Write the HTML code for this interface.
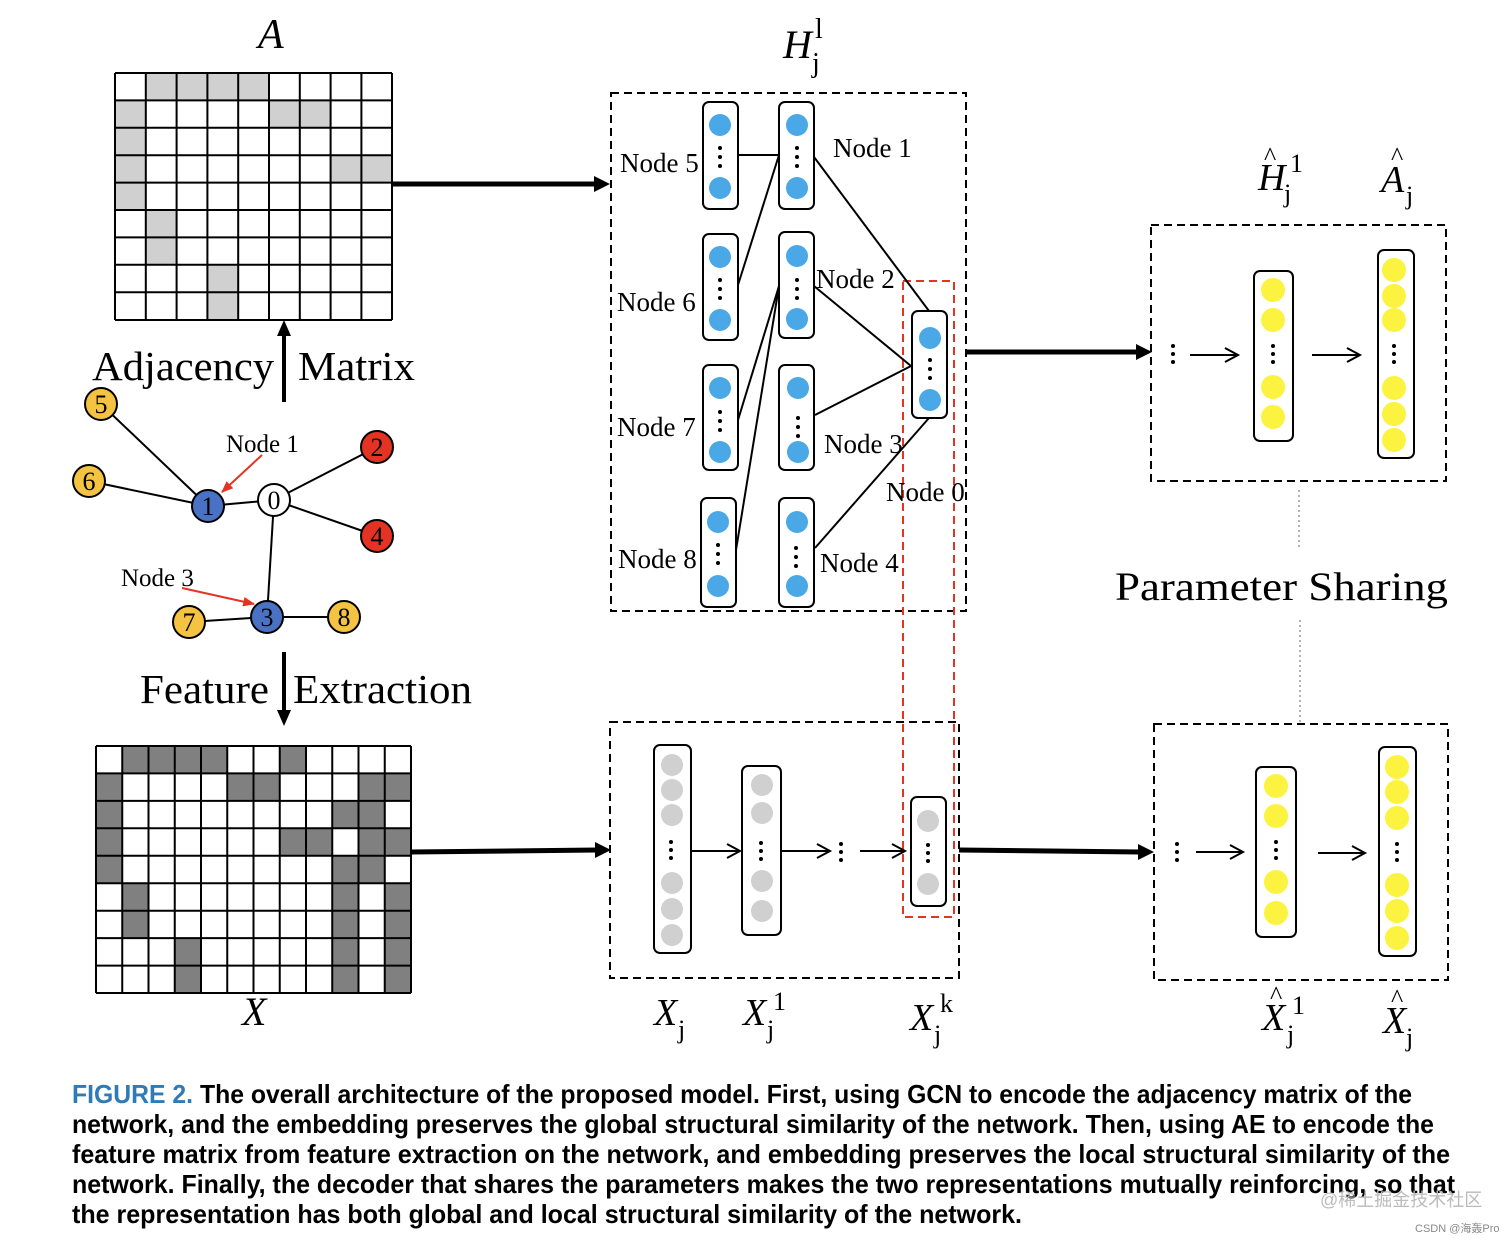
<!DOCTYPE html>
<html><head><meta charset="utf-8"><style>
html,body{margin:0;padding:0;background:#fff;width:1512px;height:1241px;overflow:hidden}
svg{display:block}
.s{font-family:"Liberation Serif",serif}
.i{font-family:"Liberation Serif",serif;font-style:italic}
.c{font-family:"Liberation Sans","Noto Sans CJK SC",sans-serif;font-weight:bold}
</style></head><body>
<svg width="1512" height="1241" viewBox="0 0 1512 1241" xmlns="http://www.w3.org/2000/svg">
<defs>
<marker id="ahr" viewBox="0 0 10 10" refX="9" refY="5" markerWidth="6" markerHeight="6" orient="auto"><path d="M0,1L10,5L0,9z" fill="#e53323"/></marker>
</defs>

<!-- Matrix A -->
<g fill="#d0d0d0">
<rect x="145.8" y="73" width="123.2" height="27.4"/>
<rect x="115" y="100.4" width="30.8" height="27.4"/><rect x="269" y="100.4" width="61.6" height="27.4"/>
<rect x="115" y="127.8" width="30.8" height="82.2"/>
<rect x="330.6" y="155.2" width="61.6" height="27.4"/>
<rect x="145.8" y="210" width="30.8" height="54.8"/>
<rect x="207.4" y="264.8" width="30.8" height="55.2"/>
</g>
<path d="M115,73V320M145.8,73V320M176.6,73V320M207.4,73V320M238.2,73V320M269,73V320M299.8,73V320M330.6,73V320M361.4,73V320M392,73V320M115,73H392M115,100.4H392M115,127.8H392M115,155.2H392M115,182.6H392M115,210H392M115,237.4H392M115,264.8H392M115,292.2H392M115,320H392" stroke="#000" stroke-width="2" fill="none"/>
<text class="i" x="258" y="48" font-size="42">A</text>

<!-- Matrix X -->
<g fill="#808080">
<rect x="122.25" y="746" width="105" height="27.4"/><rect x="279.75" y="746" width="26.25" height="27.4"/>
<rect x="96" y="773.4" width="26.25" height="109.8"/><rect x="227.25" y="773.4" width="52.5" height="27.5"/><rect x="358.5" y="773.4" width="52.5" height="27.5"/>
<rect x="332.25" y="800.9" width="52.5" height="27.4"/>
<rect x="279.75" y="828.3" width="52.5" height="27.5"/><rect x="358.5" y="828.3" width="52.5" height="27.5"/>
<rect x="332.25" y="855.8" width="52.5" height="27.4"/>
<rect x="122.25" y="883.2" width="26.25" height="54.9"/>
<rect x="332.25" y="883.2" width="26.25" height="109.8"/><rect x="384.75" y="883.2" width="26.25" height="109.8"/>
<rect x="174.75" y="938.1" width="26.25" height="54.9"/>
</g>
<path d="M96,746V993M122.25,746V993M148.5,746V993M174.75,746V993M201,746V993M227.25,746V993M253.5,746V993M279.75,746V993M306,746V993M332.25,746V993M358.5,746V993M384.75,746V993M411,746V993M96,746H411M96,773.4H411M96,800.9H411M96,828.3H411M96,855.8H411M96,883.2H411M96,910.7H411M96,938.1H411M96,965.6H411M96,993H411" stroke="#000" stroke-width="2" fill="none"/>
<text class="i" x="242" y="1025" font-size="40">X</text>

<!-- vertical arrows and labels -->
<line x1="284" y1="402" x2="284" y2="330" stroke="#000" stroke-width="4"/>
<path d="M277,336L284,320L291,336z"/>
<line x1="284" y1="652" x2="284" y2="715" stroke="#000" stroke-width="4"/>
<path d="M277,710L284,726L291,710z"/>
<text class="s" x="92" y="380" font-size="41" textLength="182" lengthAdjust="spacingAndGlyphs">Adjacency</text>
<text class="s" x="298" y="380" font-size="41" textLength="117" lengthAdjust="spacingAndGlyphs">Matrix</text>
<text class="s" x="140" y="703" font-size="41" textLength="129" lengthAdjust="spacingAndGlyphs">Feature</text>
<text class="s" x="293" y="703" font-size="41" textLength="179" lengthAdjust="spacingAndGlyphs">Extraction</text>

<!-- graph -->
<g stroke="#000" stroke-width="2">
<line x1="101" y1="404" x2="208" y2="506"/><line x1="89" y1="481" x2="208" y2="506"/>
<line x1="208" y1="506" x2="274" y2="500"/><line x1="274" y1="500" x2="377" y2="447"/>
<line x1="274" y1="500" x2="377" y2="536"/><line x1="274" y1="500" x2="267" y2="617"/>
<line x1="189" y1="622" x2="267" y2="617"/><line x1="267" y1="617" x2="344" y2="617"/>
</g>
<g stroke="#000" stroke-width="2">
<circle cx="101" cy="404" r="16" fill="#f5c342"/><circle cx="89" cy="481" r="16" fill="#f5c342"/>
<circle cx="208" cy="506" r="16" fill="#4a72c4"/><circle cx="274" cy="500" r="16" fill="#fff"/>
<circle cx="377" cy="447" r="16" fill="#e53323"/><circle cx="377" cy="536" r="16" fill="#e53323"/>
<circle cx="267" cy="617" r="16" fill="#4a72c4"/><circle cx="189" cy="622" r="16" fill="#f5c342"/>
<circle cx="344" cy="617" r="16" fill="#f5c342"/>
</g>
<g class="s" font-size="26" text-anchor="middle">
<text x="101" y="413">5</text><text x="89" y="490">6</text><text x="208" y="515">1</text><text x="274" y="509">0</text>
<text x="377" y="456">2</text><text x="377" y="545">4</text><text x="267" y="626">3</text><text x="189" y="631">7</text><text x="344" y="626">8</text>
</g>
<text class="s" x="226" y="452" font-size="25">Node 1</text>
<text class="s" x="121" y="586" font-size="25">Node 3</text>
<line x1="262" y1="455" x2="222" y2="492" stroke="#e53323" stroke-width="2" marker-end="url(#ahr)"/>
<line x1="182" y1="588" x2="254" y2="604" stroke="#e53323" stroke-width="2" marker-end="url(#ahr)"/>

<!-- big arrows -->
<g stroke="#000" stroke-width="5">
<line x1="393" y1="184" x2="596" y2="184"/><line x1="966" y1="352" x2="1138" y2="352"/>
<line x1="411" y1="852" x2="597" y2="850"/><line x1="959" y1="850" x2="1140" y2="852"/>
</g>
<path d="M594,176L610,184L594,192z"/><path d="M1136,344L1152,352L1136,360z"/>
<path d="M595,842L611,850L595,858z"/><path d="M1138,844L1154,852L1138,860z"/>

<!-- H box -->
<rect x="611" y="93" width="355" height="518" fill="none" stroke="#000" stroke-width="2" stroke-dasharray="8,5"/>
<rect x="903" y="281" width="51" height="636" fill="none" stroke="#e53323" stroke-width="2" stroke-dasharray="8,5"/>
<text class="i" x="783" y="58" font-size="40">H</text><text class="s" x="812" y="72" font-size="28">j</text><text class="s" x="815" y="38" font-size="28">l</text>
<g stroke="#000" stroke-width="2">
<line x1="738" y1="155" x2="779" y2="155"/><line x1="738" y1="285" x2="779" y2="155"/>
<line x1="814" y1="157" x2="929" y2="311"/><line x1="779" y1="286" x2="738" y2="420"/>
<line x1="779" y1="286" x2="736" y2="550"/><line x1="814" y1="286" x2="911" y2="366"/>
<line x1="815" y1="415" x2="911" y2="366"/><line x1="815" y1="548" x2="929" y2="418"/>
</g>
<g fill="#fff" stroke="#000" stroke-width="2">
<rect x="703" y="102" width="35" height="107" rx="6"/><rect x="779" y="102" width="35" height="107" rx="6"/>
<rect x="703" y="234" width="35" height="106" rx="6"/><rect x="779" y="232" width="35" height="106" rx="6"/>
<rect x="703" y="365" width="35" height="105" rx="6"/><rect x="779" y="365" width="35" height="105" rx="6"/>
<rect x="701" y="498" width="35" height="109" rx="6"/><rect x="779" y="498" width="35" height="109" rx="6"/>
<rect x="912" y="311" width="35" height="107" rx="6"/>
</g>
<g fill="#4aa8e6">
<circle cx="720" cy="125" r="11"/><circle cx="720" cy="188" r="11"/><circle cx="797" cy="125" r="11"/><circle cx="797" cy="188" r="11"/>
<circle cx="720" cy="257" r="11"/><circle cx="720" cy="320" r="11"/><circle cx="797" cy="256" r="11"/><circle cx="797" cy="319" r="11"/>
<circle cx="720" cy="388" r="11"/><circle cx="720" cy="452" r="11"/><circle cx="798" cy="388" r="11"/><circle cx="798" cy="452" r="11"/>
<circle cx="718" cy="522" r="11"/><circle cx="718" cy="586" r="11"/><circle cx="797" cy="522" r="11"/><circle cx="797" cy="586" r="11"/>
<circle cx="930" cy="338" r="11"/><circle cx="930" cy="400" r="11"/>
</g>
<g fill="#000">
<circle cx="720" cy="148" r="2"/><circle cx="720" cy="157" r="2"/><circle cx="720" cy="166" r="2"/>
<circle cx="797" cy="148" r="2"/><circle cx="797" cy="157" r="2"/><circle cx="797" cy="166" r="2"/>
<circle cx="720" cy="280" r="2"/><circle cx="720" cy="289" r="2"/><circle cx="720" cy="298" r="2"/>
<circle cx="797" cy="280" r="2"/><circle cx="797" cy="289" r="2"/><circle cx="797" cy="298" r="2"/>
<circle cx="720" cy="412" r="2"/><circle cx="720" cy="421" r="2"/><circle cx="720" cy="430" r="2"/>
<circle cx="798" cy="418" r="2"/><circle cx="798" cy="427" r="2"/><circle cx="798" cy="436" r="2"/>
<circle cx="718" cy="545" r="2"/><circle cx="718" cy="554" r="2"/><circle cx="718" cy="563" r="2"/>
<circle cx="796" cy="548" r="2"/><circle cx="796" cy="557" r="2"/><circle cx="796" cy="566" r="2"/>
<circle cx="930" cy="360" r="2"/><circle cx="930" cy="369" r="2"/><circle cx="930" cy="378" r="2"/>
</g>
<g class="s" font-size="27">
<text x="620" y="172">Node 5</text><text x="833" y="157">Node 1</text>
<text x="617" y="311">Node 6</text><text x="816" y="288">Node 2</text>
<text x="617" y="436">Node 7</text><text x="824" y="453">Node 3</text>
<text x="886" y="501">Node 0</text>
<text x="618" y="568">Node 8</text><text x="820" y="572">Node 4</text>
</g>

<!-- bottom middle box -->
<rect x="610" y="722" width="349" height="256" fill="none" stroke="#000" stroke-width="2" stroke-dasharray="8,5"/>
<g fill="#fff" stroke="#000" stroke-width="2">
<rect x="654" y="745" width="37" height="208" rx="6"/><rect x="742" y="766" width="39" height="169" rx="6"/>
<rect x="911" y="797" width="35" height="109" rx="6"/>
</g>
<g fill="#d0d0d0">
<circle cx="672" cy="765" r="11"/><circle cx="672" cy="790" r="11"/><circle cx="672" cy="815" r="11"/>
<circle cx="672" cy="883" r="11"/><circle cx="672" cy="909" r="11"/><circle cx="672" cy="935" r="11"/>
<circle cx="762" cy="785" r="11"/><circle cx="762" cy="813" r="11"/><circle cx="762" cy="881" r="11"/><circle cx="762" cy="911" r="11"/>
<circle cx="928" cy="821" r="11"/><circle cx="928" cy="884" r="11"/>
</g>
<g fill="#000">
<circle cx="671" cy="842" r="2"/><circle cx="671" cy="850" r="2"/><circle cx="671" cy="858" r="2"/>
<circle cx="761" cy="843" r="2"/><circle cx="761" cy="851" r="2"/><circle cx="761" cy="859" r="2"/>
<circle cx="841" cy="844" r="2"/><circle cx="841" cy="852" r="2"/><circle cx="841" cy="860" r="2"/>
<circle cx="928" cy="845" r="2"/><circle cx="928" cy="853" r="2"/><circle cx="928" cy="861" r="2"/>
</g>
<g stroke="#000" stroke-width="2" fill="none">
<line x1="691" y1="851" x2="740" y2="851"/><path d="M727,844L740,851L727,858"/>
<line x1="781" y1="851" x2="830" y2="851"/><path d="M817,844L830,851L817,858"/>
<line x1="860" y1="851" x2="905" y2="851"/><path d="M892,844L905,851L892,858"/>
</g>
<text class="i" x="654" y="1025" font-size="38">X</text><text class="s" x="678" y="1038" font-size="26">j</text>
<text class="i" x="743" y="1025" font-size="38">X</text><text class="s" x="767" y="1038" font-size="26">j</text><text class="s" x="773" y="1010" font-size="26">1</text>
<text class="i" x="910" y="1030" font-size="38">X</text><text class="s" x="934" y="1043" font-size="26">j</text><text class="s" x="940" y="1012" font-size="26">k</text>

<!-- top right box -->
<rect x="1151" y="225" width="295" height="256" fill="none" stroke="#000" stroke-width="2" stroke-dasharray="8,5"/>
<g fill="#fff" stroke="#000" stroke-width="2">
<rect x="1254" y="271" width="39" height="170" rx="6"/><rect x="1378" y="250" width="36" height="208" rx="6"/>
<rect x="1256" y="767" width="40" height="170" rx="6"/><rect x="1379" y="747" width="37" height="209" rx="6"/>
</g>
<g fill="#fbf33f">
<circle cx="1273" cy="290" r="12"/><circle cx="1273" cy="320" r="12"/><circle cx="1273" cy="387" r="12"/><circle cx="1273" cy="417" r="12"/>
<circle cx="1394" cy="270" r="12"/><circle cx="1394" cy="296" r="12"/><circle cx="1394" cy="320" r="12"/><circle cx="1394" cy="388" r="12"/><circle cx="1394" cy="414" r="12"/><circle cx="1394" cy="440" r="12"/>
<circle cx="1276" cy="786" r="12"/><circle cx="1276" cy="816" r="12"/><circle cx="1276" cy="882" r="12"/><circle cx="1276" cy="913" r="12"/>
<circle cx="1397" cy="767" r="12"/><circle cx="1397" cy="792" r="12"/><circle cx="1397" cy="818" r="12"/><circle cx="1397" cy="885" r="12"/><circle cx="1397" cy="911" r="12"/><circle cx="1397" cy="938" r="12"/>
</g>
<g fill="#000">
<circle cx="1173" cy="346" r="2"/><circle cx="1173" cy="354" r="2"/><circle cx="1173" cy="362" r="2"/>
<circle cx="1273" cy="346" r="2"/><circle cx="1273" cy="354" r="2"/><circle cx="1273" cy="362" r="2"/>
<circle cx="1394" cy="346" r="2"/><circle cx="1394" cy="354" r="2"/><circle cx="1394" cy="362" r="2"/>
<circle cx="1177" cy="844" r="2"/><circle cx="1177" cy="852" r="2"/><circle cx="1177" cy="860" r="2"/>
<circle cx="1276" cy="842" r="2"/><circle cx="1276" cy="850" r="2"/><circle cx="1276" cy="858" r="2"/>
<circle cx="1397" cy="844" r="2"/><circle cx="1397" cy="852" r="2"/><circle cx="1397" cy="860" r="2"/>
</g>
<g stroke="#000" stroke-width="2" fill="none">
<line x1="1190" y1="355" x2="1238" y2="355"/><path d="M1225,348L1238,355L1225,362"/>
<line x1="1312" y1="355" x2="1360" y2="355"/><path d="M1347,348L1360,355L1347,362"/>
<line x1="1196" y1="852" x2="1243" y2="852"/><path d="M1230,845L1243,852L1230,859"/>
<line x1="1318" y1="853" x2="1365" y2="853"/><path d="M1352,846L1365,853L1352,860"/>
</g>
<rect x="1154" y="724" width="294" height="256" fill="none" stroke="#000" stroke-width="2" stroke-dasharray="8,5"/>
<line x1="1299" y1="490" x2="1299" y2="550" stroke="#999" stroke-width="1.5" stroke-dasharray="2,3"/>
<line x1="1300" y1="620" x2="1300" y2="722" stroke="#999" stroke-width="1.5" stroke-dasharray="2,3"/>
<text class="s" x="1115" y="600" font-size="40" textLength="333" lengthAdjust="spacingAndGlyphs">Parameter  Sharing</text>

<text class="i" x="1258" y="190" font-size="38">H</text><text class="s" x="1264" y="165" font-size="26">^</text><text class="s" x="1284" y="202" font-size="26">j</text><text class="s" x="1290" y="172" font-size="26">1</text>
<text class="i" x="1381" y="192" font-size="38">A</text><text class="s" x="1391" y="165" font-size="26">^</text><text class="s" x="1406" y="204" font-size="26">j</text>
<text class="i" x="1262" y="1030" font-size="38">X</text><text class="s" x="1270" y="1004" font-size="26">^</text><text class="s" x="1287" y="1043" font-size="26">j</text><text class="s" x="1292" y="1014" font-size="26">1</text>
<text class="i" x="1383" y="1033" font-size="38">X</text><text class="s" x="1391" y="1007" font-size="26">^</text><text class="s" x="1406" y="1046" font-size="26">j</text>

<!-- caption -->
<g class="c" font-size="26">
<text x="72" y="1103" textLength="1340" lengthAdjust="spacingAndGlyphs"><tspan fill="#2f7bb6">FIGURE 2.</tspan> The overall architecture of the proposed model. First, using GCN to encode the adjacency matrix of the</text>
<text x="72" y="1133" textLength="1362" lengthAdjust="spacingAndGlyphs">network, and the embedding preserves the global structural similarity of the network. Then, using AE to encode the</text>
<text x="72" y="1163" textLength="1378" lengthAdjust="spacingAndGlyphs">feature matrix from feature extraction on the network, and embedding preserves the local structural similarity of the</text>
<text x="72" y="1193" textLength="1383" lengthAdjust="spacingAndGlyphs">network. Finally, the decoder that shares the parameters makes the two representations mutually reinforcing, so that</text>
<text x="72" y="1223" textLength="950" lengthAdjust="spacingAndGlyphs">the representation has both global and local structural similarity of the network.</text>
</g>
<text x="1320" y="1206" font-size="18" fill="#bbb" font-family="'Liberation Sans','Noto Sans CJK SC',sans-serif">@稀土掘金技术社区</text>
<text x="1415" y="1232" font-size="11" fill="#888" font-family="'Liberation Sans','Noto Sans CJK SC',sans-serif">CSDN @海轰Pro</text>
</svg>
</body></html>
